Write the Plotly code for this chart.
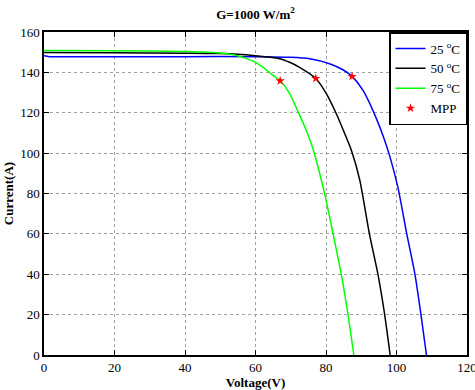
import plotly.graph_objects as go

# I-V curves at G=1000 W/m^2
v25 = [0, 1.5, 20, 40, 60, 69.7, 75.4, 81.0, 84.8, 87.4, 90.5, 93.3, 96.2, 98.0, 100.4, 102.9, 105.2, 106.9, 108.5]
i25 = [148.2, 147.8, 147.8, 147.8, 147.8, 147.5, 146.8, 144.3, 141.3, 138.0, 131.1, 121.2, 108.5, 99.0, 83.0, 60.1, 40.3, 20.5, 0]

v50 = [0, 20, 40, 50, 59.3, 66.9, 69.7, 72.5, 77.1, 80.1, 82.9, 85.3, 87.2, 89.6, 92.3, 94.7, 96.6, 98.2]
i50 = [149.8, 149.7, 149.5, 149.3, 148.4, 146.8, 145.0, 142.5, 137.0, 129.5, 119.6, 109.7, 101.4, 86.5, 60.1, 40.3, 20.5, 0]

v75 = [0, 20, 40, 49.8, 54.6, 59.3, 62.1, 65.0, 67.1, 69.7, 72.1, 74.0, 76.3, 79.6, 82.0, 84.3, 86.2, 87.9]
i75 = [150.8, 150.7, 150.3, 149.6, 148.4, 145.6, 142.6, 138.5, 135.7, 129.5, 120.4, 112.9, 102.2, 79.9, 60.1, 40.3, 20.5, 0]

mpp_v = [67.0, 77.1, 87.4]
mpp_i = [135.8, 137.0, 138.0]

names = ["25 <sup>o</sup>C", "50 <sup>o</sup>C", "75 <sup>o</sup>C", "MPP"]
xticks = [0, 20, 40, 60, 80, 100, 120]
yticks = [0, 20, 40, 60, 80, 100, 120, 140, 160]

FONT = "Liberation Serif"

fig = go.Figure()
for v, i, c, n in [(v25, i25, "#0000ff", names[0]), (v50, i50, "#000000", names[1]), (v75, i75, "#00ff00", names[2])]:
    fig.add_trace(go.Scatter(x=v, y=i, mode="lines", name=n,
                             line=dict(color=c, width=1.5, shape="spline", smoothing=0.6)))
fig.add_trace(go.Scatter(x=mpp_v, y=mpp_i, mode="markers", name=names[3],
                         marker=dict(symbol="star", size=7, color="#ff0000")))

axis_common = dict(
    showline=True, linecolor="black", linewidth=1.5, mirror="ticks",
    ticks="inside", ticklen=5, tickcolor="black",
    showgrid=True, gridcolor="#a0a0a0", griddash="dot", gridwidth=1,
    zeroline=False, automargin=False, ticklabeloverflow="allow",
    tickfont=dict(family=FONT, size=13, color="black"),
)

fig.update_xaxes(range=[0, 120], tickvals=xticks,
                 title=dict(text="<b>Voltage(V)</b>", font=dict(family=FONT, size=13, color="black"), standoff=0),
                 **axis_common)
fig.update_yaxes(range=[0, 160], tickvals=yticks,
                 title=dict(text="<b>Current(A)</b>", font=dict(family=FONT, size=13, color="black"), standoff=4),
                 **axis_common)

fig.update_layout(
    width=475, height=390,
    margin=dict(l=44, r=8, t=32, b=35),
    paper_bgcolor="white", plot_bgcolor="white",
    title=dict(text="<b>G=1000 W/m<sup>2</sup></b>", xref="paper", x=0.5, xanchor="center",
               yref="container", y=0.975, yanchor="top",
               font=dict(family=FONT, size=13, color="black")),
    legend=dict(x=1, xanchor="right", y=1, yanchor="top", bgcolor="white",
                bordercolor="black", borderwidth=1.5, itemwidth=30,
                font=dict(family=FONT, size=13, color="black"), tracegroupgap=0),
    showlegend=True,
)

fig.write_html("out.html", config={"displayModeBar": False},
               post_script="document.body.style.margin='0';document.body.style.overflow='hidden';")
